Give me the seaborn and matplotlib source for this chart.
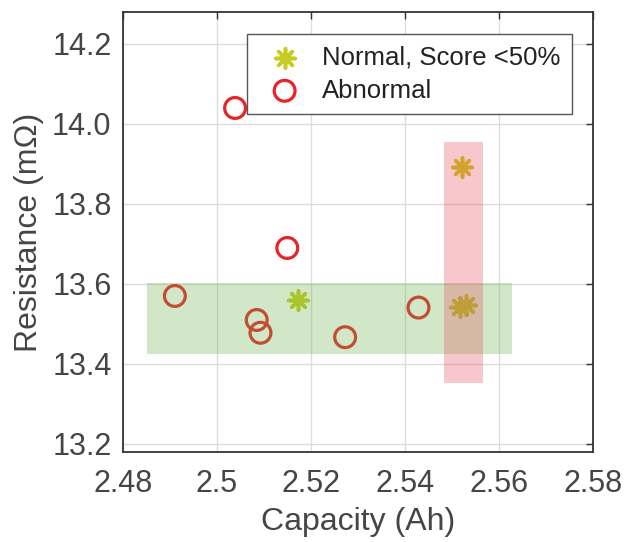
import numpy as np
import pandas as pd
import matplotlib
matplotlib.use("Agg")
import matplotlib.pyplot as plt
from matplotlib.patches import Rectangle
import seaborn as sns

# valores
normal_cap = [2.5173, 2.5522, 2.5517, 2.5531]
normal_res = [13.560, 13.893, 13.543, 13.548]
abn_cap = [2.5039, 2.5150, 2.4911, 2.5085, 2.5093, 2.5273, 2.5429]
abn_res = [14.040, 13.690, 13.570, 13.510, 13.478, 13.467, 13.541]

# bandas (capacidad min/max, resistencia min/max)
green_band = [2.4852, 2.5627, 13.424, 13.603]
pink_band = [2.5484, 2.5567, 13.353, 13.956]

x_ticks = [2.48, 2.5, 2.52, 2.54, 2.56, 2.58]
x_labels = ["2.48", "2.5", "2.52", "2.54", "2.56", "2.58"]
y_ticks = [13.2, 13.4, 13.6, 13.8, 14.0, 14.2]

df_n = pd.DataFrame({"cap": normal_cap, "res": normal_res})
df_a = pd.DataFrame({"cap": abn_cap, "res": abn_res})

sns.set_style("white")
plt.rcParams["font.family"] = ["Liberation Sans", "DejaVu Sans"]
txt = "#454545"

fig = plt.figure(figsize=(6.24, 5.42), dpi=100)
ax = fig.add_axes([0.1966, 0.1661, 0.7537, 0.8118])

sns.scatterplot(data=df_n, x="cap", y="res", marker=(8, 2, 0), s=190,
                color="#c8cc22", linewidth=2.6, label="Normal, Score <50%", ax=ax, zorder=2)
sns.scatterplot(data=df_a, x="cap", y="res", marker="o", s=225,
                facecolor="none", edgecolor="#e8242a", linewidth=2.3, label="Abnormal", ax=ax, zorder=2)

for band, col in [(green_band, "#69b248"), (pink_band, "#e84858")]:
    ax.add_patch(Rectangle((band[0], band[2]), band[1] - band[0], band[3] - band[2],
                           facecolor=col, edgecolor="none", alpha=0.3, zorder=3))

ax.set_xlim(2.48, 2.58)
ax.set_ylim(13.18, 14.28)
ax.set_xticks(x_ticks)
ax.set_xticklabels(x_labels)
ax.set_yticks(y_ticks)
ax.set_yticklabels([f"{v:.1f}" for v in y_ticks])
ax.grid(True, color="#dcdcdc", linewidth=1.0)
ax.set_axisbelow(True)
ax.tick_params(direction="in", length=5, width=1, colors="#333333",
               labelcolor=txt, labelsize=22, top=True, right=True)
ax.tick_params(axis="x", pad=12)
ax.tick_params(axis="y", pad=8)
for sp in ax.spines.values():
    sp.set_color("#333333")
    sp.set_linewidth(1.3)

ax.set_xlabel("Capacity (Ah)", fontsize=23, color=txt, labelpad=6)
ax.set_ylabel("Resistance (m\u03a9)", fontsize=23, color=txt, labelpad=6)

leg = ax.legend(loc="upper right", bbox_to_anchor=(0.955, 0.95), borderaxespad=0,
                fontsize=18.5, frameon=True, fancybox=False, edgecolor="#555555",
                framealpha=1, handletextpad=0.45, borderpad=0.45, labelspacing=0.35,
                handlelength=2.0)
leg.get_frame().set_linewidth(1.0)
for t in leg.get_texts():
    t.set_color("#222222")

fig.savefig("out.png", dpi=100)
